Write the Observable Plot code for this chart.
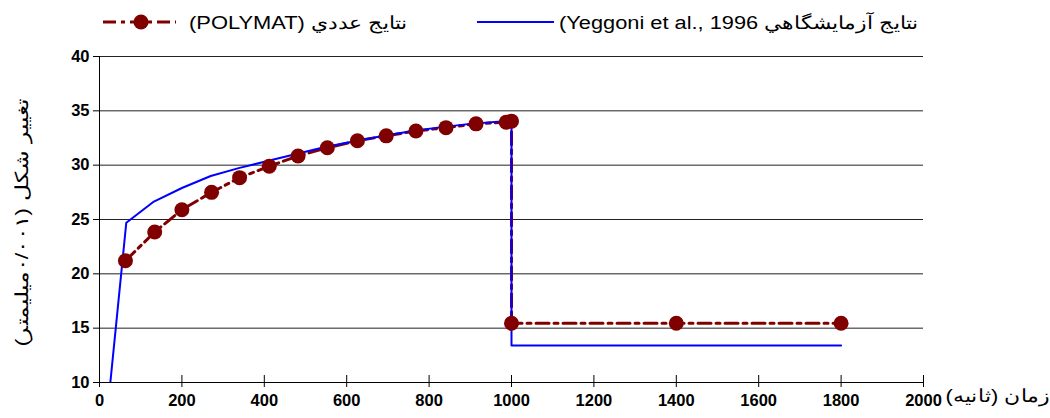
<!DOCTYPE html>
<html>
<head>
<meta charset="utf-8">
<script src="https://cdn.jsdelivr.net/npm/d3@7"></script>
<script src="https://cdn.jsdelivr.net/npm/@observablehq/plot@0.6"></script>
<style>
  html, body { margin: 0; padding: 0; background: #fff; }
  #chart { width: 1050px; }
  svg { display: block; }
</style>
</head>
<body>
<div id="chart"></div>
<script>
// Numerical results (POLYMAT): time in seconds, deformation in 0.001 mm
const polyTime = [63, 134, 200, 272, 340, 412, 482, 553, 626, 696, 768, 841, 914, 987, 1000, 1000, 1400, 1800];
const polyDef  = [21.2, 23.85, 25.9, 27.5, 28.85, 29.9, 30.85, 31.6, 32.25, 32.7, 33.15, 33.45, 33.8, 33.95, 34.05, 15.45, 15.45, 15.45];

// Laboratory results (Yeggoni et al., 1996)
const expTime = [0, 65, 132, 200, 270, 340, 410, 480, 550, 620, 690, 760, 830, 900, 1000, 1000, 1800];
const expDef  = [0, 24.7, 26.65, 27.9, 29.0, 29.75, 30.4, 31.05, 31.7, 32.2, 32.7, 33.15, 33.5, 33.8, 34.1, 13.4, 13.4];

const xTicks = [0, 200, 400, 600, 800, 1000, 1200, 1400, 1600, 1800, 2000];
const yTicks = [10, 15, 20, 25, 30, 35, 40];

const polyLabel = "(POLYMAT) نتايج عددي";
const expLabel = "(Yeggoni et al., 1996 نتايج آزمايشگاهي";
const xTitle = "\u202Bزمان (ثانيه)\u202C";
const yTitle = "\u202Bتغيير شكل (۰/۰۰۱ميليمتر)\u202C";

const poly = polyTime.map((t, i) => ({t, d: polyDef[i]}));
const exp = expTime.map((t, i) => ({t, d: expDef[i]}));

const RED = "#800000", BLUE = "#0000ff";
const FONT = "'Liberation Sans', Arial, sans-serif";

// legend row
const leg = d3.create("svg").attr("xmlns", "http://www.w3.org/2000/svg")
  .attr("width", 1050).attr("height", 44)
  .style("font-family", FONT).style("background", "#fff");
leg.append("line").attr("x1", 103).attr("x2", 176).attr("y1", 22).attr("y2", 22)
  .attr("stroke", RED).attr("stroke-width", 3).attr("stroke-dasharray", "13,5,4,5");
leg.append("circle").attr("cx", 141).attr("cy", 22).attr("r", 7.5).attr("fill", RED);
leg.append("text").attr("x", 189).attr("y", 29).attr("font-size", 18)
  .attr("textLength", 218).attr("lengthAdjust", "spacingAndGlyphs").text(polyLabel);
leg.append("line").attr("x1", 477).attr("x2", 554).attr("y1", 22).attr("y2", 22)
  .attr("stroke", BLUE).attr("stroke-width", 2);
leg.append("text").attr("x", 559).attr("y", 29).attr("font-size", 18)
  .attr("textLength", 359).attr("lengthAdjust", "spacingAndGlyphs").text(expLabel);
document.getElementById("chart").append(leg.node());

const chart = Plot.plot({
  width: 1050,
  height: 374,
  marginLeft: 99,
  marginRight: 127,
  marginTop: 12,
  marginBottom: 36,
  style: {fontFamily: FONT, color: "#000", background: "#fff", overflow: "visible"},
  x: {domain: [0, 2000]},
  y: {domain: [10, 40]},
  marks: [
    Plot.ruleY(yTicks.filter(d => d > 10), {stroke: "#222", strokeWidth: 1}),
    Plot.axisY(yTicks, {tickSize: 6, tickPadding: 4, label: null, fontSize: 16.5, fontWeight: "bold", stroke: "#000"}),
    Plot.axisX(xTicks, {tickSize: 0, tickPadding: 12, label: null, fontSize: 16.5, fontWeight: "bold", tickFormat: d => String(d)}),
    Plot.ruleX(xTicks, {x: d => d, y1: 10, y2: 10, insetTop: -7, insetBottom: -5, stroke: "#000"}),
    Plot.ruleX([0], {stroke: "#000"}),
    Plot.ruleY([10], {stroke: "#000"}),
    Plot.line(poly, {x: "t", y: "d", stroke: RED, strokeWidth: 3, strokeDasharray: "13,5,4,5"}),
    Plot.line(exp, {x: "t", y: "d", stroke: BLUE, strokeWidth: 2, clip: true}),
    Plot.dot(poly, {x: "t", y: "d", r: 7.5, fill: RED, stroke: "none"}),
    Plot.text([xTitle], {frameAnchor: "bottom-right", dx: 22, dy: 19, textAnchor: "start", fontSize: 18}),
    Plot.text([yTitle], {frameAnchor: "left", rotate: -90, dx: -77, dy: 3, textAnchor: "middle", fontSize: 18})
  ]
});

// widen the two axis titles along their reading direction
d3.select(chart).selectAll("text").each(function() {
  if (this.textContent === xTitle) {
    this.setAttribute("transform", (this.getAttribute("transform") || "") + " scale(1.22,1)");
  } else if (this.textContent === yTitle) {
    this.setAttribute("transform", (this.getAttribute("transform") || "") + " scale(1.3,1)");
  }
});
document.getElementById("chart").append(chart);
</script>
</body>
</html>
